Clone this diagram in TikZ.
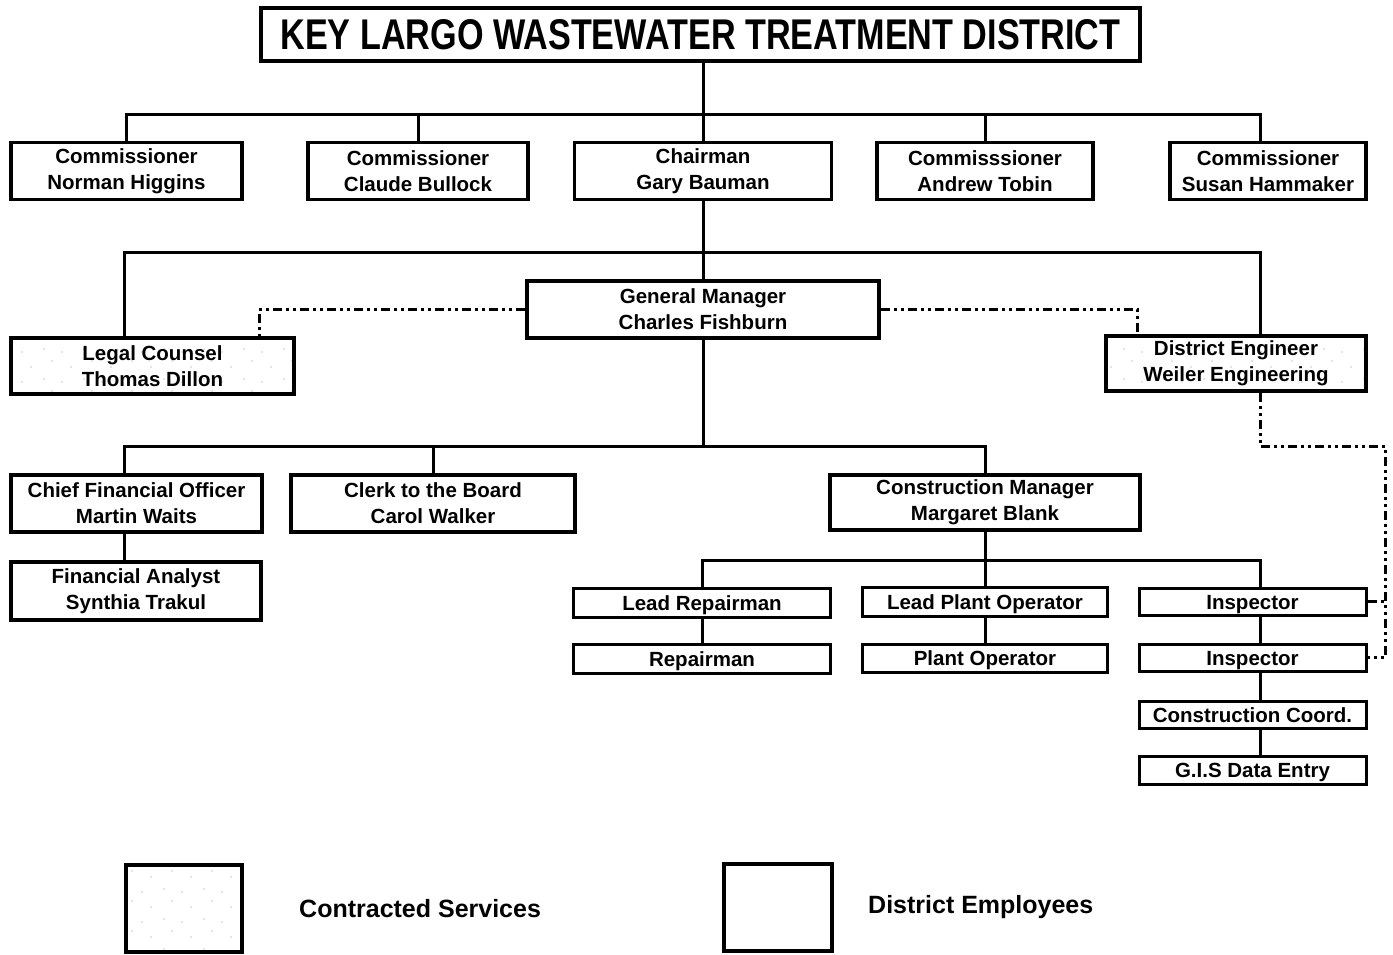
\documentclass[tikz,border=0pt]{standalone}
\usepackage{fontspec}
\usepackage{graphicx}
\setmainfont{Liberation Sans}
\usetikzlibrary{calc,patterns}
\pgfdeclarepatternformonly{specks}{\pgfpoint{-1pt}{-1pt}}{\pgfpoint{41pt}{31pt}}{\pgfpoint{40pt}{30pt}}{%
 \pgfpathcircle{\pgfpoint{4pt}{6pt}}{0.7pt}%
 \pgfpathcircle{\pgfpoint{22pt}{3pt}}{0.6pt}%
 \pgfpathcircle{\pgfpoint{31pt}{18pt}}{0.7pt}%
 \pgfpathcircle{\pgfpoint{12pt}{24pt}}{0.6pt}%
 \pgfusepath{fill}}
\begin{document}
\begin{tikzpicture}[x=1pt,y=-1pt,
  box/.style={draw, line width=3.5pt, inner sep=0pt, align=center,
    font=\bfseries\fontsize{20.5}{26}\selectfont},
  sbox/.style={box, line width=3pt, text height=15pt, text depth=0pt},
  conn/.style={line width=3pt},
  dashdot/.style={line width=3pt, dash pattern=on 9pt off 4pt on 3pt off 4pt on 3pt off 4pt},
  contract/.style={pattern=specks, pattern color=black!45},
  legtext/.style={anchor=west, inner sep=0pt, font=\bfseries\fontsize{25}{30}\selectfont}]
\useasboundingbox (0,0) rectangle (1393,955);

% title
\node[box, line width=4pt, minimum width=879pt, minimum height=53pt] (title) at (700.5,34.5)
  {\resizebox{840pt}{30pt}{\bfseries KEY LARGO WASTEWATER TREATMENT DISTRICT}};

% board
\node[box, minimum width=231pt, minimum height=57pt] (comm1) at (126.5,171) {Commissioner\\Norman Higgins};
\node[box, minimum width=220pt, minimum height=57pt] (comm2) at (418,171) {Commissioner\\Claude Bullock};
\node[box, minimum width=257pt, minimum height=57pt] (chair) at (703,171) {Chairman\\Gary Bauman};
\node[box, minimum width=216pt, minimum height=57pt] (comm4) at (985,171) {Commisssioner\\Andrew Tobin};
\node[box, minimum width=196pt, minimum height=57pt] (comm5) at (1268,171) {Commissioner\\Susan Hammaker};

% management
\node[box, minimum width=352pt, minimum height=57pt] (gm) at (703,309.5) {General Manager\\Charles Fishburn};
\node[box, contract, minimum width=283pt, minimum height=56pt] (legal) at (152.5,366) {Legal Counsel\\Thomas Dillon};
\node[box, contract, minimum width=260pt, minimum height=55pt] (de) at (1236,363.5) {District Engineer\\Weiler Engineering};

\node[box, minimum width=251pt, minimum height=57pt] (cfo) at (136.5,503.5) {Chief Financial Officer\\Martin Waits};
\node[box, minimum width=284pt, minimum height=57pt] (clerk) at (433,503.5) {Clerk to the Board\\Carol Walker};
\node[box, minimum width=310pt, minimum height=55pt] (cm) at (985,502.5) {Construction Manager\\Margaret Blank};
\node[box, minimum width=250pt, minimum height=58pt] (fa) at (136,591) {Financial Analyst\\Synthia Trakul};

\node[sbox, minimum width=257pt, minimum height=29pt] (lr) at (702,602.5) {Lead Repairman};
\node[sbox, minimum width=257pt, minimum height=29pt] (rep) at (702,658.5) {Repairman};
\node[sbox, minimum width=245pt, minimum height=29pt] (lpo) at (985,601.5) {Lead Plant Operator};
\node[sbox, minimum width=245pt, minimum height=28pt] (po) at (985,658) {Plant Operator};
\node[sbox, minimum width=227pt, minimum height=27pt] (insp1) at (1252.5,601.5) {Inspector};
\node[sbox, minimum width=227pt, minimum height=27pt] (insp2) at (1252.5,657.5) {Inspector};
\node[sbox, minimum width=227pt, minimum height=27pt] (cc) at (1252.5,714.5) {Construction Coord.};
\node[sbox, minimum width=227pt, minimum height=28pt] (gis) at (1252.5,770) {G.I.S Data Entry};

% legend
\node[box, contract, minimum width=116pt, minimum height=87pt] (leg1) at (184,908.5) {};
\node[legtext] (leg1t) at (299,909) {Contracted Services};
\node[box, minimum width=108pt, minimum height=87pt] (leg2) at (778,907.5) {};
\node[legtext] (leg2t) at (868,907) {District Employees};

% coordinates
\coordinate (b1) at (0,115);
\coordinate (b2) at (0,252);
\coordinate (b3) at (0,446);
\coordinate (b4) at (0,560);
\coordinate (rail) at (1385,446);
\coordinate (c5in) at ($(comm5.north west)+(92,0)$);
\coordinate (legalin) at ($(legal.north west)+(115,0)$);
\coordinate (legaldash) at ($(legal.north west)+(250,0)$);
\coordinate (dein) at ($(de.north west)+(156,0)$);
\coordinate (dedash) at ($(de.north west)+(33,0)$);
\coordinate (cfoin) at ($(cfo.north west)+(115,0)$);
\coordinate (insin) at ($(insp1.north west)+(123,0)$);

% solid connectors
\draw[conn] (title.south -| chair.north) -- (chair.north);
\draw[conn] (comm1.north) -- (comm1.north |- b1) -- (c5in |- b1) -- (c5in);
\draw[conn] (comm2.north) -- (comm2.north |- b1);
\draw[conn] (comm4.north) -- (comm4.north |- b1);
\draw[conn] (chair.south) -- (gm.north);
\draw[conn] (legalin) -- (legalin |- b2) -- (dein |- b2) -- (dein);
\draw[conn] (gm.south) -- (gm.south |- b3);
\draw[conn] (cfoin) -- (cfoin |- b3) -- (cm.north |- b3) -- (cm.north);
\draw[conn] (clerk.north) -- (clerk.north |- b3);
\draw[conn] (cfoin |- cfo.south) -- (cfoin |- fa.north);
\draw[conn] (cm.south) -- (cm.south |- b4);
\draw[conn] (lr.north) -- (lr.north |- b4) -- (insin |- b4) -- (insin);
\draw[conn] (lpo.north) -- (lpo.north |- b4);
\draw[conn] (lr.south) -- (rep.north);
\draw[conn] (lpo.south) -- (po.north);
\draw[conn] (insin |- insp1.south) -- (insin |- insp2.north);
\draw[conn] (insin |- insp2.south) -- (insin |- cc.north);
\draw[conn] (insin |- cc.south) -- (insin |- gis.north);

% dotted (contract) connectors
\draw[dashdot] (gm.west) -| (legaldash);
\draw[dashdot] (gm.east) -| (dedash);
\draw[dashdot] (dein |- de.south) |- (rail) |- (insp2.east);
\draw[dashdot] (insp1.east) -- (insp1.east -| rail);
\end{tikzpicture}
\end{document}
